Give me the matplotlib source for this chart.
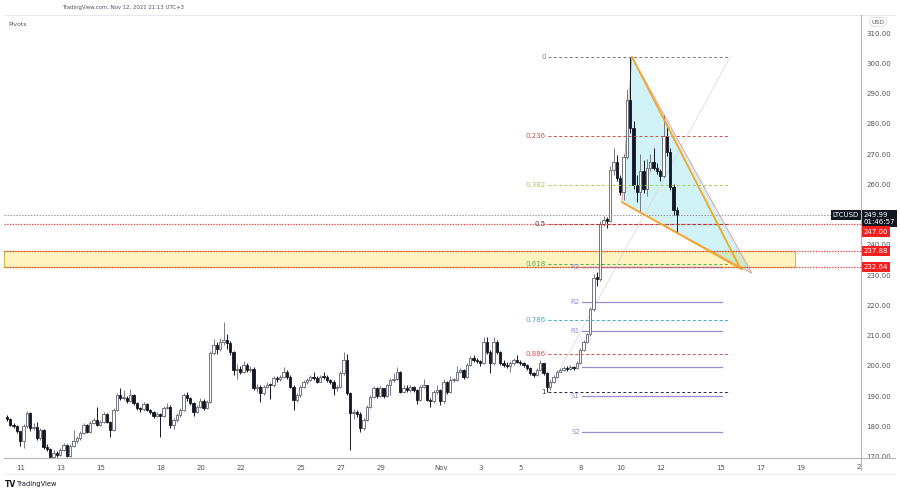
import numpy as np
import pandas as pd
import matplotlib
matplotlib.use("Agg")
import matplotlib.pyplot as plt
import matplotlib.dates as mdates
from matplotlib.patches import Rectangle, Polygon
from matplotlib.lines import Line2D

# LTCUSD 4h candles (UTC+3), first candle Oct 10 07:00, open = previous close
first_open = 183.0
close = [182.5, 180.5, 180.0, 178.3, 175.0, 180.0, 184.3, 179.3, 179.9, 176.0,
         178.8, 173.3, 172.5, 170.0, 171.1, 170.5, 172.2, 173.8, 170.2, 173.5,
         175.0, 176.0, 177.7, 180.4, 178.2, 181.0, 182.1, 180.5, 181.5, 184.0,
         181.5, 178.8, 185.4, 190.3, 189.2, 189.5, 188.2, 190.3, 187.6, 186.0,
         185.6, 187.3, 185.4, 184.8, 183.4, 184.0, 183.5, 186.0, 186.5, 180.4,
         182.0, 183.8, 185.4, 190.3, 189.2, 187.6, 184.8, 186.5, 188.5, 186.0,
         188.0, 204.1, 206.9, 205.5, 208.0, 208.5, 207.5, 204.5, 198.6, 199.0,
         198.0, 200.3, 198.6, 199.0, 192.5, 193.0, 191.0, 193.0, 193.7, 193.6,
         195.9, 195.5, 196.4, 198.0, 196.4, 193.1, 188.7, 190.3, 193.1, 194.8,
         195.3, 196.4, 196.0, 194.8, 196.4, 196.2, 195.3, 194.8, 192.6, 193.0,
         197.5, 201.9, 190.9, 184.3, 184.8, 184.0, 179.3, 182.1, 186.5, 189.8,
         192.8, 190.0, 192.5, 190.0, 193.5, 195.3, 195.8, 198.0, 191.5, 192.8,
         192.0, 193.0, 192.0, 188.7, 193.1, 193.5, 188.7, 188.2, 191.4, 192.0,
         188.2, 194.7, 191.4, 195.3, 195.4, 198.1, 198.6, 196.4, 200.3, 202.5,
         201.9, 201.5, 200.8, 208.0, 204.7, 200.8, 208.0, 204.7, 200.8, 200.3,
         200.0, 200.8, 201.9, 201.4, 200.8, 200.3, 199.2, 197.5, 197.0, 198.6,
         200.8, 197.5, 193.1, 194.7, 196.4, 198.1, 198.6, 199.2, 199.0, 199.7,
         199.2, 201.0, 205.2, 208.0, 210.5, 218.8, 229.0, 228.8, 247.0, 248.3,
         248.0, 264.7, 267.5, 262.0, 257.6, 269.1, 287.9, 278.5, 259.8, 257.5,
         264.5, 258.5, 265.5, 267.5, 265.5, 264.5, 262.8, 276.0, 270.8, 259.2,
         251.5, 249.99]
high = [183.8, 182.9, 181.0, 180.4, 178.6, 180.6, 185.0, 184.6, 181.0, 181.5,
        179.6, 179.2, 174.0, 172.9, 172.0, 171.8, 172.8, 174.5, 174.2, 174.0,
        178.8, 176.8, 178.3, 181.2, 180.8, 181.6, 182.9, 186.5, 182.2, 184.6,
        184.5, 181.9, 186.0, 191.0, 192.5, 192.0, 190.0, 192.3, 190.6, 188.0,
        186.5, 188.0, 187.8, 185.8, 185.2, 184.6, 184.5, 186.8, 187.7, 186.9,
        182.6, 184.3, 186.0, 191.0, 191.2, 189.8, 188.0, 187.2, 189.2, 188.9,
        188.8, 205.0, 209.0, 207.8, 209.3, 214.6, 210.5, 208.3, 204.8, 200.5,
        200.0, 201.5, 201.0, 200.0, 199.5, 194.0, 193.5, 193.6, 194.8, 194.3,
        196.5, 196.6, 197.0, 199.5, 198.6, 196.8, 193.6, 191.0, 193.8, 195.4,
        196.0, 197.0, 198.0, 196.6, 197.0, 198.0, 196.8, 195.8, 195.2, 193.8,
        198.2, 204.7, 203.8, 191.4, 185.6, 185.5, 184.6, 182.8, 187.0, 190.5,
        193.3, 193.0, 193.2, 192.8, 194.0, 195.9, 197.5, 199.5, 198.4, 193.6,
        193.5, 193.8, 193.4, 192.4, 193.7, 195.5, 193.8, 189.2, 192.0, 193.8,
        192.4, 195.5, 195.0, 196.5, 196.0, 199.8, 199.4, 198.8, 200.9, 203.2,
        203.5, 202.6, 201.8, 209.5, 209.5, 205.2, 209.5, 208.6, 205.0, 202.0,
        201.2, 201.5, 202.5, 203.5, 202.0, 201.2, 200.6, 199.5, 198.0, 199.2,
        202.0, 201.0, 197.8, 195.3, 197.0, 198.6, 199.2, 199.8, 199.9, 200.3,
        200.0, 201.6, 205.8, 208.6, 211.0, 219.5, 230.5, 231.0, 248.0, 249.5,
        249.2, 266.0, 271.9, 269.8, 263.0, 270.0, 291.5, 302.2, 281.0, 263.0,
        270.0, 268.0, 268.5, 270.0, 272.0, 267.0, 265.0, 283.0, 280.0, 272.0,
        260.0, 252.5]
low = [181.8, 180.0, 179.3, 177.8, 173.5, 172.7, 179.6, 178.6, 178.9, 175.5,
       175.6, 172.6, 171.8, 169.7, 169.6, 169.9, 170.1, 171.9, 169.7, 169.9,
       173.0, 174.5, 175.6, 177.3, 177.7, 177.9, 180.6, 180.0, 180.1, 181.0,
       181.0, 176.6, 178.5, 185.0, 188.6, 188.8, 187.6, 188.0, 187.2, 185.4,
       184.6, 185.2, 184.9, 184.2, 182.8, 183.0, 176.6, 183.0, 185.6, 179.6,
       179.2, 181.5, 183.2, 185.0, 188.5, 187.0, 183.5, 184.3, 186.0, 185.5,
       185.6, 187.6, 203.5, 204.0, 205.0, 207.0, 205.5, 203.6, 197.0, 195.5,
       197.2, 197.6, 198.0, 197.8, 192.0, 191.5, 188.0, 190.5, 192.5, 189.0,
       193.0, 194.8, 195.0, 196.0, 195.8, 192.6, 185.4, 188.0, 189.8, 192.6,
       194.0, 195.0, 195.4, 194.2, 194.5, 195.6, 194.8, 194.0, 190.5, 191.8,
       192.6, 197.0, 190.4, 172.2, 182.5, 183.0, 178.0, 178.8, 181.6, 186.0,
       189.3, 189.4, 189.6, 189.4, 189.6, 190.3, 194.6, 195.3, 190.9, 191.2,
       191.3, 191.5, 191.4, 187.5, 188.2, 192.5, 188.2, 186.5, 187.6, 190.8,
       187.0, 187.8, 190.6, 191.0, 194.6, 195.0, 197.5, 195.8, 196.0, 199.8,
       201.2, 200.8, 200.0, 200.5, 204.0, 197.5, 200.2, 204.0, 200.1, 199.6,
       199.3, 198.0, 200.4, 200.8, 200.2, 199.6, 198.6, 197.0, 196.3, 196.6,
       198.3, 197.0, 191.3, 192.0, 194.2, 196.0, 197.8, 198.3, 198.4, 198.6,
       198.7, 198.9, 200.6, 204.8, 207.5, 210.0, 218.2, 226.5, 228.0, 246.2,
       245.5, 247.5, 263.0, 261.0, 256.5, 254.8, 268.5, 277.0, 258.5, 254.0,
       250.4, 257.0, 256.0, 264.5, 264.8, 263.5, 261.0, 262.0, 269.5, 258.0,
       250.0, 244.3]

times = pd.date_range("2021-10-10 07:00", periods=len(close), freq="4h")

# horizontal levels drawn on the chart
last_price = 249.99
resistance = 247.00
zone_top, zone_bottom = 237.88, 232.64

# fibonacci retracement (0 at the top, 1 at the Nov 6 low)
fib_top, fib_bottom = 302.2, 191.3
fib_ratios = [0, 0.236, 0.382, 0.5, 0.618, 0.786, 0.886, 1]
fib_labels = ["0", "0.236", "0.382", "0.5", "0.618", "0.786", "0.886", "1"]
fib_colors = ["#787b86", "#c8504b", "#a6cf55", "#6b3b3b", "#4caf50",
              "#3fa9d8", "#e0504b", "#2a2e39"]
fib_span = (pd.Timestamp("2021-11-06 08:00"), pd.Timestamp("2021-11-15 11:00"))

# daily pivots
pivot_names = ["R3", "R2", "R1", "P", "S1", "S2"]
pivot_values = [232.7, 221.1, 211.5, 199.6, 190.0, 178.1]
pivot_span = (pd.Timestamp("2021-11-08 01:00"), pd.Timestamp("2021-11-15 01:00"))

# drawings
zone_span = (pd.Timestamp("2021-10-10 04:00"), pd.Timestamp("2021-11-18 17:00"))
tri_pts = [(pd.Timestamp("2021-11-10 01:00"), 254.1),
           (pd.Timestamp("2021-11-10 13:00"), 302.2),
           (pd.Timestamp("2021-11-16 13:00"), 230.6)]
upper_line = [(pd.Timestamp("2021-11-10 13:00"), 302.2),
              (pd.Timestamp("2021-11-15 23:00"), 232.35)]
lower_line = [(pd.Timestamp("2021-11-10 01:00"), 254.1),
              (pd.Timestamp("2021-11-16 01:00"), 231.9)]
fib_trend = [(pd.Timestamp("2021-11-06 08:00"), 191.3),
             (pd.Timestamp("2021-11-15 11:00"), 302.1)]

tick_dates = ["2021-10-11", "2021-10-13", "2021-10-15", "2021-10-18", "2021-10-20",
              "2021-10-22", "2021-10-25", "2021-10-27", "2021-10-29", "2021-11-01",
              "2021-11-03", "2021-11-05", "2021-11-08", "2021-11-10", "2021-11-12",
              "2021-11-15", "2021-11-17", "2021-11-19"]
tick_labels = ["11", "13", "15", "18", "20", "22", "25", "27", "29", "Nov",
               "3", "5", "8", "10", "12", "15", "17", "19"]
price_ticks = [170, 180, 190, 200, 210, 220, 230, 240, 260, 270, 280, 290, 300, 310]

W, H = 900, 494
fig = plt.figure(figsize=(W / 100, H / 100), dpi=100)
fig.patch.set_facecolor("white")
ax = fig.add_axes([4 / W, 1 - 458 / H, (861 - 4) / W, (458 - 15) / H])
ax.set_facecolor("white")

txt = "#50535e"
fs = 5

def d(t):
    return mdates.date2num(pd.Timestamp(t))

# candles
x = mdates.date2num(times)
c = np.array(close)
o = np.array([first_open] + close[:-1])
hi = np.array(high)
lo = np.array(low)
up = c >= o
bw = 4 / 24 * 0.72
ax.vlines(x[up], lo[up], hi[up], color="#787b86", lw=0.7, zorder=4)
ax.vlines(x[~up], lo[~up], hi[~up], color="#131722", lw=0.7, zorder=4)
body_lo = np.minimum(o, c)
body_h = np.maximum(np.abs(c - o), 0.4)
ax.bar(x[up], body_h[up], bottom=body_lo[up], width=bw, facecolor="white",
       edgecolor="#5d606b", lw=0.6, zorder=5)
ax.bar(x[~up], body_h[~up], bottom=body_lo[~up], width=bw, facecolor="#131722",
       edgecolor="#131722", lw=0.6, zorder=5)

# support zone
ax.add_patch(Rectangle((d(zone_span[0]), zone_bottom),
                       d(zone_span[1]) - d(zone_span[0]), zone_top - zone_bottom,
                       facecolor="#fff3c0", edgecolor="#d8b84c", lw=0.8, zorder=1))

# triangle
tri = [(d(t), p) for t, p in tri_pts]
ax.add_patch(Polygon(tri, closed=True, facecolor="#00bcd4", alpha=0.18,
                     edgecolor="none", zorder=2))
ax.add_patch(Polygon(tri, closed=True, facecolor="none", edgecolor="#e89090",
                     lw=0.6, zorder=3))
for seg in (upper_line, lower_line):
    ax.plot([d(seg[0][0]), d(seg[1][0])], [seg[0][1], seg[1][1]],
            color="#f5a623", lw=1.3, zorder=7, solid_capstyle="round")
ax.plot([d(fib_trend[0][0]), d(fib_trend[1][0])],
        [fib_trend[0][1], fib_trend[1][1]], color="#d9dbe2", lw=0.6, zorder=2)

# fib levels
for r, lab, col in zip(fib_ratios, fib_labels, fib_colors):
    lvl = fib_top - r * (fib_top - fib_bottom)
    ax.plot([d(fib_span[0]), d(fib_span[1])], [lvl, lvl], color=col, lw=0.7,
            ls=(0, (3, 2.5)), zorder=6)
    ax.annotate(lab, xy=(d(fib_span[0]), lvl), xytext=(-1.5, 0),
                textcoords="offset points", ha="right", va="center",
                fontsize=fs, color=col, zorder=8)

# pivots
for name, val in zip(pivot_names, pivot_values):
    ax.plot([d(pivot_span[0]), d(pivot_span[1])], [val, val], color="#9c8ad6",
            lw=0.9, zorder=3)
    if name != "P":
        ax.annotate(name, xy=(d(pivot_span[0]), val), xytext=(-1.5, 0),
                    textcoords="offset points", ha="right", va="center",
                    fontsize=fs, color="#9c8ad6", zorder=8)

# horizontal price lines
ax.axhline(last_price, color="#9598a1", lw=0.7, ls=(0, (1.5, 1.5)), zorder=6)
for lvl in (resistance, zone_top, zone_bottom):
    ax.axhline(lvl, color="#e53935", lw=0.9, ls=(0, (1, 1.2)), zorder=6)

ax.set_xlim(d("2021-10-10 03:36"), d("2021-11-22 00:00"))
ax.set_ylim(169.52, 315.97)
for s in ax.spines.values():
    s.set_visible(False)

ax.set_xticks([d(t) for t in tick_dates])
ax.set_xticklabels(tick_labels)
ax.tick_params(axis="x", length=0, pad=5, labelsize=fs, labelcolor=txt)
ax.text(d("2021-11-22 00:00"), -0.021, "2", transform=ax.get_xaxis_transform(),
        ha="right", va="center", fontsize=fs, color=txt)
ax.yaxis.tick_right()
ax.set_yticks(price_ticks)
ax.set_yticklabels([f"{v:.2f}" for v in price_ticks])
ax.tick_params(axis="y", length=0, pad=4, labelsize=fs, labelcolor=txt)

# price labels on the axis
yt = ax.get_yaxis_transform()
def axis_label(text, lvl, fc, dy=0.0, xo=1.5):
    ax.annotate(text, xy=(1.0, lvl), xycoords=yt, xytext=(xo, dy),
                textcoords="offset points", ha="left", va="center",
                fontsize=fs, color="white", linespacing=1.1,
                bbox=dict(boxstyle="square,pad=0.3", fc=fc, ec="none"),
                annotation_clip=False, zorder=10)

axis_label("249.99\n01:46:57", last_price, "#131722", dy=-2.8)
axis_label(f"{resistance:.2f}", resistance, "#f21f1f", dy=-5.7)
axis_label(f"{zone_top:.2f}", zone_top, "#f21f1f")
axis_label(f"{zone_bottom:.2f}", zone_bottom, "#f21f1f")
ax.annotate("LTCUSD", xy=(1.0, last_price), xycoords=yt, xytext=(-1.5, 0),
            textcoords="offset points", ha="right", va="center", fontsize=fs,
            color="white", bbox=dict(boxstyle="square,pad=0.3", fc="#131722", ec="none"),
            annotation_clip=False, zorder=10)

# frame lines
def fx(px):
    return px / W
def fy(py):
    return 1 - py / H
fig.add_artist(Line2D([fx(4), fx(895)], [fy(15), fy(15)], color="#e6e8ee", lw=0.7))
fig.add_artist(Line2D([fx(4), fx(895)], [fy(458), fy(458)], color="#b2b5be", lw=0.8))
fig.add_artist(Line2D([fx(4), fx(895)], [fy(474), fy(474)], color="#eceef2", lw=0.6))
fig.add_artist(Line2D([fx(861), fx(861)], [fy(15), fy(470)], color="#b2b5be", lw=0.8))

fig.text(fx(62), fy(8), "TradingView.com, Nov 12, 2021 21:13 UTC+3", fontsize=3.9,
         color=txt, va="center", ha="left")
fig.text(fx(8), fy(24), "Pivots", fontsize=4.4, color=txt, va="center", ha="left")
fig.text(fx(878), fy(22), "USD", fontsize=4.4, color=txt, va="center", ha="center",
         bbox=dict(boxstyle="round,pad=0.3,rounding_size=0.6", fc="white", ec="#d1d4dc", lw=0.5))
fig.text(fx(5), fy(484), "TV", fontsize=5.5, fontweight="bold", color="#131722",
         va="center", ha="left")
fig.text(fx(17), fy(484), "TradingView", fontsize=4.8, color="#131722",
         va="center", ha="left")

fig.savefig("out.png", dpi=100, facecolor="white")
